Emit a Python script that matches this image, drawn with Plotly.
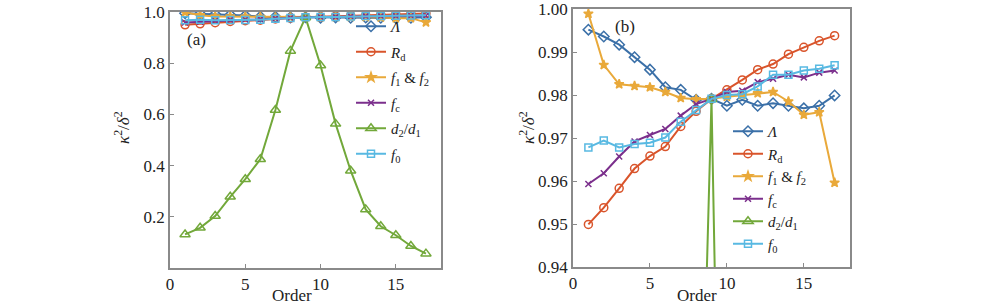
import plotly.graph_objects as go

order = list(range(1, 18))

lam = [0.9952, 0.9936, 0.9917, 0.9888, 0.9859, 0.9818, 0.9812, 0.9789, 0.9791,
       0.9775, 0.9789, 0.9775, 0.9781, 0.9775, 0.9769, 0.9775, 0.9799]
rd = [0.9499, 0.9538, 0.9583, 0.9629, 0.9658, 0.9680, 0.9727, 0.9762, 0.9791,
      0.9812, 0.9835, 0.9859, 0.9872, 0.9895, 0.9911, 0.9926, 0.9938]
f1f2 = [0.9989, 0.9870, 0.9825, 0.9821, 0.9818, 0.9807, 0.9793, 0.9790, 0.9791,
        0.9796, 0.9800, 0.9804, 0.9807, 0.9785, 0.9754, 0.9760, 0.9596]
fc = [0.9593, 0.9618, 0.9657, 0.9692, 0.9707, 0.9721, 0.9752, 0.9779, 0.9791,
      0.9807, 0.9810, 0.9830, 0.9838, 0.9847, 0.9841, 0.9852, 0.9857]
d2d1 = [0.131, 0.157, 0.203, 0.278, 0.347, 0.425, 0.617, 0.848, 0.979,
        0.791, 0.563, 0.380, 0.229, 0.163, 0.128, 0.086, 0.056]
f0 = [0.9678, 0.9694, 0.9678, 0.9686, 0.9689, 0.9701, 0.9738, 0.9765, 0.9791,
      0.9800, 0.9802, 0.9820, 0.9847, 0.9847, 0.9857, 0.9861, 0.9869]

names = ["<i>Λ</i>", "<i>R</i><sub>d</sub>", "<i>f</i><sub>1</sub> & <i>f</i><sub>2</sub>",
         "<i>f</i><sub>c</sub>", "<i>d</i><sub>2</sub>/<i>d</i><sub>1</sub>", "<i>f</i><sub>0</sub>"]
series = [lam, rd, f1f2, fc, d2d1, f0]
colors = ["#3b70a8", "#d9542b", "#e9a93a", "#7b2f8c", "#72a83a", "#58b9e2"]
symbols = ["diamond-open", "circle-open", "star", "x-thin-open", "triangle-up-open", "square-open"]
msizes = [8, 8, 7, 6, 9, 7]

x_ticks = [0, 5, 10, 15]
ya_ticks = [0.2, 0.4, 0.6, 0.8, 1.0]
yb_ticks = [0.94, 0.95, 0.96, 0.97, 0.98, 0.99, 1.00]

W, H, OFF = 1000, 306, 0  # body margin removed via post_script below


def X(px):
    return (px - OFF) / W


def Y(py):
    return 1 - (py - OFF) / H


fig = go.Figure()
for panel, (xa, ya, lg) in enumerate([("x", "y", "legend"), ("x2", "y2", "legend2")]):
    for i, (name, vals, c, s, ms) in enumerate(zip(names, series, colors, symbols, msizes)):
        fig.add_trace(go.Scatter(
            x=order, y=vals, name=name, mode="lines+markers",
            xaxis=xa, yaxis=ya, legend=lg, legendgroup="p%d_%d" % (panel, i),
            line=dict(color=c, width=2),
            marker=dict(symbol=s, size=ms, color=c, line=dict(color=c, width=1.5)),
        ))

font_family = "Liberation Serif"
axis_common = dict(
    showgrid=False, zeroline=False, showline=True, linecolor="#8a8a8a", linewidth=1.5,
    mirror=True, ticks="inside", ticklen=4, tickcolor="#8a8a8a",
    ticklabeloverflow="allow",
    tickfont=dict(family=font_family, size=17, color="#222"),
)

fig.update_layout(
    width=W, height=H,
    margin=dict(l=0, r=0, t=0, b=0, autoexpand=False),
    paper_bgcolor="white", plot_bgcolor="white",
    font=dict(family=font_family, size=15, color="#222"),
    xaxis=dict(domain=[X(170), X(441)], range=[0, 18], tickvals=x_ticks,
               ticktext=[str(v) for v in x_ticks], anchor="y", **axis_common),
    yaxis=dict(domain=[Y(268), Y(12)], range=[0, 1.0], tickvals=ya_ticks,
               ticktext=["%.1f" % v for v in ya_ticks], anchor="x", **axis_common),
    xaxis2=dict(domain=[X(573), X(850)], range=[0, 18], tickvals=x_ticks,
                ticktext=[str(v) for v in x_ticks], anchor="y2", **axis_common),
    yaxis2=dict(domain=[Y(267), Y(9)], range=[0.94, 1.0], tickvals=yb_ticks,
                ticktext=["%.2f" % v for v in yb_ticks], anchor="x2", **axis_common),
    legend=dict(x=X(351), y=Y(10), xanchor="left", yanchor="top",
                bgcolor="rgba(0,0,0,0)", font=dict(family=font_family, size=15),
                itemwidth=30, tracegroupgap=3),
    legend2=dict(x=X(728), y=Y(115), xanchor="left", yanchor="top",
                 bgcolor="rgba(0,0,0,0)", font=dict(family=font_family, size=15),
                 itemwidth=30, tracegroupgap=0),
    showlegend=True,
)

ytitle = "<i>κ</i><sup>2</sup>/<i>δ</i><sup>2</sup>"
ann = [
    dict(text="Order", x=X(292), y=Y(295)),
    dict(text="Order", x=X(697), y=Y(295)),
    dict(text=ytitle, x=X(122), y=Y(128), textangle=-90),
    dict(text=ytitle, x=X(527), y=Y(128), textangle=-90),
    dict(text="(a)", x=X(196), y=Y(39)),
    dict(text="(b)", x=X(625), y=Y(26)),
]
for a in ann:
    fig.add_annotation(xref="paper", yref="paper", showarrow=False,
                       xanchor="center", yanchor="middle",
                       font=dict(family=font_family, size=17, color="#222"), **a)

fig.write_html("out.html", config={"displayModeBar": False},
               post_script="document.body.style.margin='0';")
